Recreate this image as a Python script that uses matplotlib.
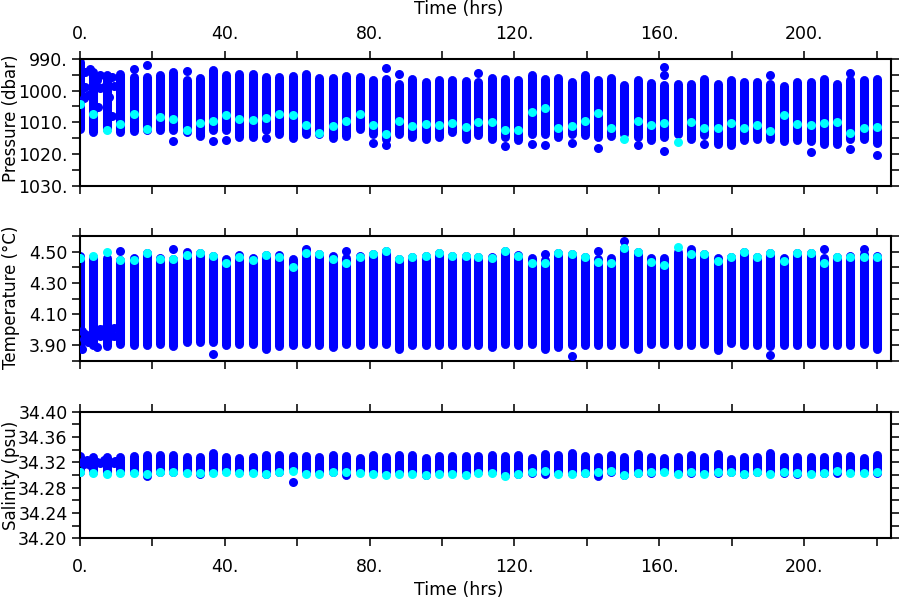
import numpy as np
import matplotlib
matplotlib.use("Agg")
import matplotlib.pyplot as plt
from matplotlib.ticker import FixedLocator, FormatStrFormatter

# profile times (hrs)
times = [0.0, 3.7, 7.4,
         11.1, 14.8, 18.5, 22.1, 25.8, 29.5, 33.2, 36.7, 40.4, 44.0,
         47.7, 51.4, 55.1, 58.8, 62.4, 66.1, 69.8, 73.5, 77.2, 80.9,
         84.5, 88.1, 91.8, 95.5, 99.2, 102.8, 106.5, 110.0, 113.7, 117.4,
         121.1, 124.8, 128.4, 132.1, 135.8, 139.5, 143.1, 146.8, 150.3, 154.2,
         157.7, 161.4, 165.1, 168.7, 172.4, 176.1, 179.8, 183.5, 187.1, 190.7,
         194.4, 198.1, 201.8, 205.5, 209.1, 212.8, 216.5, 220.0]

# pressure: top / bottom of each profile, plus the highlighted (cyan) sample
pres_top = [991.0, 994.0, 995.0,
            994.6, 995.7, 995.7, 995.2, 994.1, 996.7, 996.0, 993.6, 995.2, 994.8,
            994.6, 995.7, 995.7, 995.4, 994.8, 996.0, 996.0, 995.4, 995.8, 996.7,
            996.2, 997.8, 996.4, 997.3, 996.7, 996.7, 997.0, 997.3, 996.0, 996.2,
            996.7, 995.2, 996.4, 996.0, 997.3, 995.2, 996.7, 996.0, 998.1, 996.7,
            997.5, 998.1, 997.8, 997.8, 996.4, 997.8, 996.7, 997.3, 997.3, 997.8,
            998.5, 997.3, 997.3, 996.4, 997.8, 996.7, 996.7, 996.4]
pres_bot = [1012.0, 1013.0, 1012.0,
            1013.1, 1012.9, 1012.5, 1012.5, 1012.5, 1013.1, 1014.3, 1012.5, 1012.5, 1014.7,
            1014.7, 1012.5, 1013.6, 1015.0, 1013.6, 1013.6, 1015.0, 1014.3, 1012.0, 1013.6,
            1015.2, 1013.6, 1014.7, 1015.2, 1014.7, 1013.1, 1015.4, 1013.9, 1015.2, 1014.7,
            1015.7, 1013.6, 1013.6, 1014.7, 1013.6, 1013.9, 1014.7, 1014.3, 1013.6, 1014.7,
            1015.7, 1014.7, 1013.6, 1015.2, 1013.9, 1016.8, 1017.3, 1015.7, 1015.2, 1015.2,
            1016.0, 1015.7, 1016.0, 1016.8, 1016.8, 1015.2, 1015.4, 1016.4]
pres_cyan = [1004.2, 1007.4, 1012.5,
             1010.4, 1007.5, 1012.0, 1008.3, 1009.1, 1012.5, 1010.1, 1009.7, 1007.6, 1009.1,
             1009.4, 1008.5, 1007.3, 1007.8, 1010.8, 1013.3, 1011.2, 1009.7, 1007.3, 1010.8,
             1013.6, 1009.7, 1011.3, 1010.7, 1011.0, 1010.1, 1011.5, 1009.9, 1009.9, 1012.3,
             1012.5, 1006.8, 1005.5, 1011.7, 1011.2, 1009.6, 1007.0, 1011.8, 1015.4, 1009.7,
             1010.8, 1010.3, 1016.2, 1009.9, 1011.8, 1011.8, 1010.3, 1011.8, 1010.8, 1012.9,
             1007.8, 1010.4, 1010.8, 1010.1, 1010.0, 1013.3, 1011.8, 1011.5]
pres_extra_t = [14.8, 18.5, 25.8, 29.5, 36.7, 40.4, 51.4, 80.9, 84.5, 84.5, 88.1, 110.0,
                117.4, 124.8, 128.4, 135.8, 143.1, 154.2, 161.4, 161.4, 161.4, 172.4,
                190.7, 201.8, 212.8, 212.8, 220.0,
                1.4, 2.8, 4.7, 5.6, 1.4, 2.3, 3.7, 5.1, 1.0, 5.6, 7.4, 8.8, 9.3, 6.5,
                7.9, 7.4, 8.8, 4.2]
pres_extra_v = [993.1, 992.0, 1016.0, 993.8, 1016.0, 1015.7, 1015.0, 1016.4, 992.8, 1017.1,
                994.6, 994.4, 1017.5, 1016.8, 1017.1, 1016.6, 1018.1, 1017.3, 992.5, 995.0,
                1019.1, 1016.8, 995.2, 1019.4, 994.3, 1018.3, 1020.5,
                994.0, 993.0, 996.6, 999.3, 998.8, 1001.4, 1003.0, 1005.1, 1002.4, 995.1,
                995.6, 995.6, 998.5, 998.8, 1001.9, 1004.0, 1008.0, 997.7]

# temperature
temp_top = [4.475, 4.465, 4.46,
            4.447, 4.461, 4.489, 4.461, 4.453, 4.500, 4.489, 4.474, 4.451, 4.478,
            4.461, 4.478, 4.480, 4.451, 4.500, 4.485, 4.472, 4.457, 4.472, 4.485,
            4.506, 4.453, 4.464, 4.474, 4.489, 4.474, 4.474, 4.464, 4.465, 4.506,
            4.478, 4.457, 4.447, 4.489, 4.485, 4.464, 4.453, 4.457, 4.521, 4.500,
            4.457, 4.457, 4.500, 4.517, 4.485, 4.461, 4.468, 4.500, 4.464, 4.489,
            4.457, 4.489, 4.489, 4.457, 4.468, 4.474, 4.483, 4.470]
temp_bot = [3.895, 3.900, 3.895,
            3.910, 3.900, 3.900, 3.906, 3.894, 3.921, 3.921, 3.921, 3.900, 3.910,
            3.910, 3.879, 3.894, 3.900, 3.910, 3.900, 3.889, 3.910, 3.900, 3.910,
            3.910, 3.879, 3.900, 3.900, 3.900, 3.900, 3.900, 3.900, 3.889, 3.910,
            3.900, 3.906, 3.879, 3.889, 3.900, 3.900, 3.900, 3.900, 3.910, 3.879,
            3.910, 3.910, 3.900, 3.900, 3.910, 3.868, 3.915, 3.900, 3.900, 3.894,
            3.900, 3.900, 3.910, 3.900, 3.900, 3.900, 3.910, 3.879]
temp_cyan = [4.46, 4.47, 4.50,
             4.447, 4.447, 4.489, 4.453, 4.453, 4.478, 4.489, 4.474, 4.425, 4.468,
             4.447, 4.478, 4.464, 4.404, 4.489, 4.485, 4.453, 4.425, 4.464, 4.485,
             4.506, 4.453, 4.464, 4.474, 4.489, 4.474, 4.474, 4.464, 4.457, 4.506,
             4.474, 4.425, 4.425, 4.489, 4.485, 4.464, 4.436, 4.425, 4.521, 4.500,
             4.436, 4.415, 4.531, 4.485, 4.485, 4.440, 4.468, 4.500, 4.464, 4.489,
             4.440, 4.489, 4.489, 4.430, 4.468, 4.468, 4.468, 4.464]
temp_extra_t = [11.1, 25.8, 36.7, 62.4, 73.5, 128.4, 135.8, 143.1, 150.3, 190.7, 205.5, 216.5,
                0.5, 2.0, 1.0, 3.3, 4.7, 5.6, 6.5, 7.4, 8.3, 9.3, 9.3, 5.6, 3.7, 2.3,
                4.7, 0.5, 1.5, 8.3]
temp_extra_v = [4.506, 4.517, 3.847, 4.517, 4.506, 4.483, 3.832, 4.506, 4.569, 3.838, 4.517, 4.517,
                3.993, 3.961, 3.940, 3.951, 3.972, 3.961, 4.004, 4.025, 3.993, 4.014, 3.961,
                4.004, 3.929, 3.919, 3.887, 3.877, 3.975, 3.960]

# salinity
sal_top = [34.330, 34.328, 34.328,
           34.328, 34.330, 34.332, 34.331, 34.331, 34.328, 34.328, 34.334, 34.329, 34.327,
           34.329, 34.332, 34.331, 34.330, 34.330, 34.328, 34.331, 34.330, 34.327, 34.332,
           34.328, 34.331, 34.331, 34.327, 34.330, 34.330, 34.330, 34.330, 34.332, 34.330,
           34.332, 34.327, 34.333, 34.331, 34.334, 34.330, 34.328, 34.332, 34.329, 34.333,
           34.328, 34.327, 34.328, 34.332, 34.328, 34.333, 34.325, 34.328, 34.328, 34.334,
           34.328, 34.328, 34.328, 34.329, 34.330, 34.330, 34.327, 34.331]
sal_bot = [34.305, 34.305, 34.305,
           34.304, 34.304, 34.298, 34.304, 34.304, 34.304, 34.301, 34.304, 34.306, 34.304,
           34.304, 34.301, 34.304, 34.309, 34.304, 34.304, 34.304, 34.300, 34.306, 34.304,
           34.304, 34.304, 34.304, 34.300, 34.304, 34.304, 34.302, 34.304, 34.304, 34.300,
           34.301, 34.303, 34.302, 34.303, 34.303, 34.303, 34.298, 34.304, 34.300, 34.303,
           34.303, 34.306, 34.303, 34.303, 34.304, 34.303, 34.304, 34.301, 34.304, 34.304,
           34.303, 34.301, 34.304, 34.303, 34.303, 34.304, 34.304, 34.303]
sal_cyan = [34.305, 34.303, 34.301,
            34.303, 34.303, 34.302, 34.305, 34.304, 34.303, 34.303, 34.303, 34.305, 34.303,
            34.303, 34.302, 34.305, 34.306, 34.302, 34.301, 34.304, 34.304, 34.303, 34.301,
            34.300, 34.302, 34.302, 34.300, 34.302, 34.302, 34.300, 34.303, 34.303, 34.299,
            34.302, 34.304, 34.306, 34.302, 34.302, 34.303, 34.305, 34.306, 34.300, 34.303,
            34.304, 34.305, 34.302, 34.304, 34.302, 34.304, 34.304, 34.302, 34.304, 34.302,
            34.304, 34.303, 34.302, 34.303, 34.306, 34.303, 34.303, 34.304]
sal_extra_t = [58.8, 0.5, 2.0, 4.7, 5.6, 6.5, 8.3, 9.3, 2.8, 7.4, 3.7, 1.2, 9.8]
sal_extra_v = [34.289, 34.321, 34.324, 34.321, 34.319, 34.324, 34.321, 34.319, 34.316,
               34.313, 34.319, 34.318, 34.322]

BLUE = '#0000ff'
CYAN = '#00ffff'
DOT = 6.5  # points, ~9 px

plt.rcParams['font.family'] = 'DejaVu Sans'
plt.rcParams['font.size'] = 12.5

fig = plt.figure(figsize=(9, 6), dpi=100)
left, width = 80 / 900, 811 / 900
ax1 = fig.add_axes([left, 0.6908, width, 0.2108])
ax2 = fig.add_axes([left, 0.3983, width, 0.2083])
ax3 = fig.add_axes([left, 0.1028, width, 0.2110])

panels = [
    (ax1, pres_top, pres_bot, pres_cyan, pres_extra_t, pres_extra_v),
    (ax2, temp_top, temp_bot, temp_cyan, temp_extra_t, temp_extra_v),
    (ax3, sal_top, sal_bot, sal_cyan, sal_extra_t, sal_extra_v),
]
for ax, top, bot, cyan, ext, exv in panels:
    lc = ax.vlines(times, top, bot, colors=BLUE, linewidth=DOT, zorder=2)
    lc.set_capstyle('round')
    ax.plot(ext, exv, 'o', color=BLUE, markersize=DOT, markeredgewidth=0, zorder=3)
    ax.plot(times, cyan, 'o', color=CYAN, markersize=DOT, markeredgewidth=0, zorder=4)

    ax.set_xlim(0, 224)
    ax.xaxis.set_major_locator(FixedLocator([0, 40, 80, 120, 160, 200]))
    ax.xaxis.set_minor_locator(FixedLocator([20, 60, 100, 140, 180, 220]))
    ax.xaxis.set_major_formatter(FormatStrFormatter('%d.'))
    for side in ax.spines.values():
        side.set_linewidth(1.5)
    ax.tick_params(which='both', direction='out', length=6, width=1.3,
                   top=True, right=True, labelbottom=False, labeltop=False,
                   colors='#222222', labelcolor='black')
    ax.tick_params(axis='x', pad=8)
    ax.tick_params(axis='y', pad=3)

ax1.set_ylim(1030, 990)
ax1.yaxis.set_major_locator(FixedLocator([990, 1000, 1010, 1020, 1030]))
ax1.yaxis.set_minor_locator(FixedLocator([995, 1005, 1015, 1025]))
ax1.yaxis.set_major_formatter(FormatStrFormatter('%d.'))
ax1.tick_params(labeltop=True)
ax1.tick_params(axis='x', pad=5.5)

ax2.set_ylim(3.8, 4.6)
ax2.yaxis.set_major_locator(FixedLocator([3.9, 4.1, 4.3, 4.5]))
ax2.yaxis.set_minor_locator(FixedLocator([3.8, 4.0, 4.2, 4.4, 4.6]))
ax2.yaxis.set_major_formatter(FormatStrFormatter('%.2f'))

ax3.set_ylim(34.20, 34.40)
ax3.yaxis.set_major_locator(FixedLocator([34.20, 34.24, 34.28, 34.32, 34.36, 34.40]))
ax3.yaxis.set_minor_locator(FixedLocator([34.22, 34.26, 34.30, 34.34, 34.38]))
ax3.yaxis.set_major_formatter(FormatStrFormatter('%.2f'))
ax3.tick_params(labelbottom=True)

# axis titles placed at the reference positions
ylab = dict(rotation=90, ha='center', va='center', fontsize=12)
fig.text(11 / 900, 1 - 118 / 600, 'Pressure (dbar)', **ylab)
fig.text(11 / 900, 1 - 297 / 600, 'Temperature (°C)', **ylab)
fig.text(11 / 900, 1 - 475 / 600, 'Salinity (psu)', **ylab)
fig.text(459 / 900, 1 - 9 / 600, 'Time (hrs)', ha='center', va='center')
fig.text(459 / 900, 1 - 590 / 600, 'Time (hrs)', ha='center', va='center')

fig.savefig('out.png', dpi=100)
